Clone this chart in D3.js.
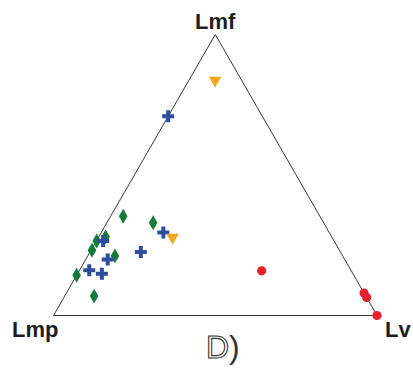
<!DOCTYPE html>
<html>
<head>
<meta charset="utf-8">
<script src="https://cdn.jsdelivr.net/npm/d3@7"></script>
<style>
  html, body { margin: 0; padding: 0; background: #fff; }
  svg { display: block; }
</style>
</head>
<body>
<svg id="chart" width="413" height="369"></svg>
<script>
// Ternary compositions in percent: [Lmf, Lmp, Lv]
const vertexLabels = ["Lmf", "Lmp", "Lv"];
const panelLabel = "D";

const groupGreen = [
  [35.3, 60.8, 3.9],
  [28.0, 69.9, 2.1],
  [26.5, 73.4, 0.1],
  [23.2, 76.5, 0.3],
  [21.2, 70.4, 8.4],
  [14.3, 85.7, 0.0],
  [6.9, 84.0, 9.1],
  [33.0, 52.7, 14.3]
];
const groupBlue = [
  [70.9, 29.1, 0.0],
  [29.5, 51.3, 19.2],
  [22.6, 61.7, 15.7],
  [26.5, 71.4, 2.1],
  [19.9, 73.3, 6.8],
  [16.1, 80.9, 3.0],
  [14.9, 77.6, 7.5]
];
const groupOrange = [
  [83.7, 8.2, 8.1],
  [27.8, 49.3, 22.9]
];
const groupRed = [
  [15.9, 27.7, 56.4],
  [8.0, 0.0, 92.0],
  [6.4, 0.0, 93.6],
  [0.0, 0.0, 100.0]
];

const svg = d3.select("#chart");

// Triangle geometry: base from Lmp (left) to Lv (right), apex Lmf on top
const xScale = d3.scaleLinear().domain([0, 100]).range([53.5, 377]);
const yScale = d3.scaleLinear().domain([0, 100]).range([315.5, 34.5]);

function project(d) {
  const [mf, mp, v] = d;
  const total = mf + mp + v;
  const f = mf / total * 100, vv = v / total * 100;
  return [xScale(vv + f / 2), yScale(f)];
}

const corners = [[100, 0, 0], [0, 100, 0], [0, 0, 100]].map(project);

svg.append("path")
  .attr("d", d3.line()(corners) + "Z")
  .attr("fill", "none")
  .attr("stroke", "#3a3a3a")
  .attr("stroke-width", 1);

function drawGroup(data, type, size, color, rotate) {
  const sym = d3.symbol().type(type).size(size);
  svg.append("g").selectAll("path")
    .data(data)
    .join("path")
    .attr("d", sym)
    .attr("transform", d => {
      const [x, y] = project(d);
      return `translate(${x},${y})` + (rotate ? ` rotate(${rotate})` : "");
    })
    .attr("fill", color);
}

drawGroup(groupGreen, d3.symbolDiamond, 64, "#177a3b", 0);
drawGroup(groupBlue, d3.symbolCross, 80, "#2b4f9e", 0);
drawGroup(groupOrange, d3.symbolTriangle, 68, "#f2a51f", 180);
drawGroup(groupRed, d3.symbolCircle, 66, "#e3202b", 0);

// Vertex labels
const labelFont = "'Liberation Sans', Arial, sans-serif";
const labelPos = [
  { t: vertexLabels[0], x: corners[0][0], y: 29, anchor: "middle" },
  { t: vertexLabels[1], x: 12, y: 337, anchor: "start" },
  { t: vertexLabels[2], x: 385, y: 337, anchor: "start" }
];
svg.append("g").selectAll("text")
  .data(labelPos)
  .join("text")
  .attr("x", d => d.x)
  .attr("y", d => d.y)
  .attr("text-anchor", d => d.anchor)
  .attr("font-family", labelFont)
  .attr("font-weight", "bold")
  .attr("font-size", 22)
  .attr("fill", "#1e1e1e")
  .text(d => d.t);

// Panel label: outlined letter followed by a parenthesis
const panel = svg.append("text")
  .attr("x", 206)
  .attr("y", 358)
  .attr("font-family", labelFont)
  .attr("font-size", 32);
panel.append("tspan")
  .attr("fill", "#fff")
  .attr("stroke", "#333")
  .attr("stroke-width", 1.1)
  .text(panelLabel);
panel.append("tspan")
  .attr("fill", "#333")
  .attr("font-weight", "300")
  .text(")");
</script>
</body>
</html>
